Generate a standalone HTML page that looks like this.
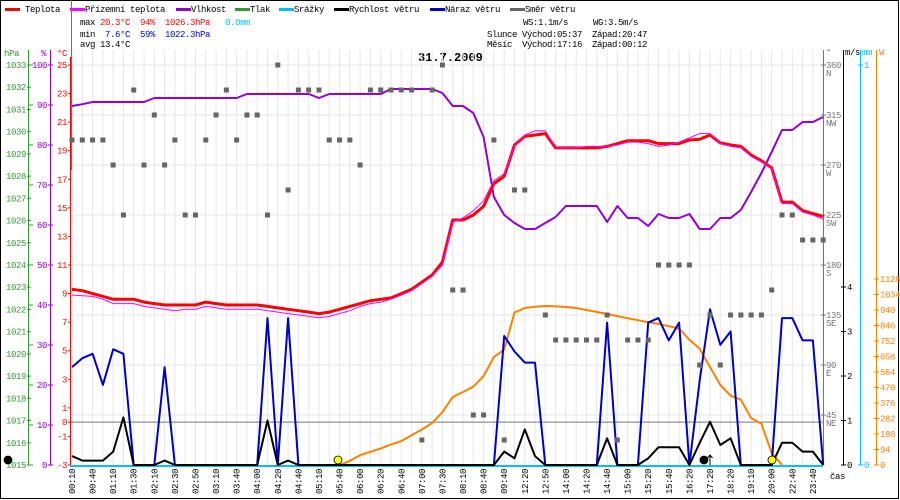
<!DOCTYPE html>
<html><head><meta charset="utf-8"><style>
html,body{margin:0;padding:0;background:#fff}
svg{display:block}
text{font-family:"Liberation Mono",monospace;font-size:9px;letter-spacing:-0.4px;white-space:pre}
</style></head><body>
<svg id="chart" width="900" height="500" viewBox="0 0 900 500" xml:space="preserve">
<rect x="0.5" y="0.5" width="898" height="498" fill="#fff" stroke="#000"/>
<g>
 <g><rect x="5" y="8" width="15" height="3" fill="#f00"/><text x="25" y="12">Teplota</text></g>
 <g><rect x="70" y="8" width="15" height="3" fill="#f0f"/><text x="85" y="12">Přízemní teplota</text></g>
 <g><rect x="176" y="8" width="15" height="3" fill="#9400d3"/><text x="191" y="12">Vlhkost</text></g>
 <g><rect x="235" y="8" width="15" height="3" fill="#339933"/><text x="250" y="12">Tlak</text></g>
 <g><rect x="279" y="8" width="15" height="3" fill="#00bfff"/><text x="294" y="12">Srážky</text></g>
 <g><rect x="334" y="8" width="15" height="3" fill="#000"/><text x="349" y="12">Rychlost větru</text></g>
 <g><rect x="430" y="8" width="15" height="3" fill="#0000cc"/><text x="445" y="12">Náraz větru</text></g>
 <g><rect x="510" y="8" width="15" height="3" fill="#666"/><text x="525" y="12">Směr větru</text></g>
</g>
<g>
 <text x="80" y="25">max <tspan fill="#f00">20.3°C  94%  1026.3hPa</tspan>   <tspan fill="#00bfff">0.0mm</tspan></text>
 <text x="80" y="37">min  <tspan fill="#0000cc">7.6°C  59%  1022.3hPa</tspan></text>
 <text x="80" y="47">avg 13.4°C</text>
 <text x="523" y="25">WS:1.1m/s     WG:3.5m/s</text>
 <text x="487" y="37">Slunce Východ:05:37  Západ:20:47</text>
 <text x="487" y="47">Měsíc  Východ:17:16  Západ:00:12</text>
</g>
<text x="418" y="61" style="font-size:12px;font-weight:bold;letter-spacing:0">31.7.2009</text>
<g id="grid"></g>
<g id="axes"></g>
<g id="series"></g>
</svg>
<script>
const timeLabels=["00:10","00:40","01:10","01:30","02:10","02:30","02:50","03:10","03:40","04:00","04:20","04:40","05:10","05:40","06:00","06:20","06:40","07:00","07:30","08:10","08:40","09:40","12:20","12:50","14:00","14:20","14:40","15:00","15:20","15:40","16:20","17:20","18:20","19:10","20:00","22:40","23:40"];
const temperature=[9.3,9.2,9.0,8.8,8.6,8.6,8.6,8.4,8.3,8.2,8.2,8.2,8.2,8.4,8.3,8.2,8.2,8.2,8.2,8.1,8.0,7.9,7.8,7.7,7.6,7.7,7.9,8.1,8.3,8.5,8.6,8.7,9.0,9.3,9.8,10.3,11.2,14.15,14.15,14.5,15.1,16.7,17.2,19.4,20.0,20.1,20.2,19.2,19.2,19.2,19.2,19.2,19.3,19.5,19.7,19.7,19.7,19.5,19.5,19.5,19.75,19.8,20.1,19.55,19.4,19.3,18.7,18.3,17.8,15.4,15.4,14.8,14.6,14.4];
const apparentTemp=[8.9,8.85,8.8,8.6,8.3,8.3,8.3,8.1,8.0,7.9,7.8,7.9,7.9,8.1,8.0,7.9,7.9,7.9,7.9,7.8,7.7,7.6,7.5,7.4,7.3,7.4,7.6,7.8,8.1,8.3,8.4,8.6,8.9,9.2,9.7,10.2,11.0,14.0,14.3,14.8,15.5,16.9,17.4,19.3,20.1,20.4,20.4,19.2,19.2,19.2,19.3,19.3,19.3,19.4,19.6,19.6,19.5,19.3,19.4,19.6,19.9,20.2,20.2,19.5,19.3,19.2,18.6,18.2,17.8,15.3,15.3,14.7,14.5,14.2];
const humidity=[89.75,90.2,90.75,90.75,90.75,90.75,90.75,90.75,91.75,91.75,91.75,91.75,91.75,91.75,91.75,91.75,91.75,92.75,92.75,92.75,92.75,92.75,92.75,92.75,91.75,92.75,92.75,92.75,92.75,92.75,92.75,94,94,94,94,94,93,89.75,89.75,88,82,67,62.5,60.5,59,59,60.5,62,64.75,64.75,64.75,64.75,60.75,64.75,61.75,61.75,59.75,62.75,61.75,61.75,62.75,59,59,61.75,61.75,63.75,68.25,73,78.25,83.75,83.75,85.75,85.75,87];
const gust=[2.2,2.4,2.5,1.8,2.6,2.5,0,0,0,2.2,0,0,0,0,0,0,0,0,0,3.3,0,3.3,0,0,0,0,0,0,0,0,0,0,0,0,0,0,0,0,0,0,0,0,2.9,2.55,2.3,2.3,0,0,0,0,0,0,3.2,0,0,0,3.2,3.3,2.8,3.2,0,1.9,3.5,2.7,3.0,0,0,0,0,3.3,3.3,2.8,2.8,0];
const windSpeed=[0.2,0.1,0.1,0.1,0.3,1.07,0,0,0,0.1,0,0,0,0,0,0,0,0,0,1.0,0,0.1,0,0,0,0,0,0,0,0,0,0,0,0,0,0,0,0,0,0,0,0,0.3,0.15,0.8,0.2,0,0,0,0,0,0,0.6,0,0,0,0.15,0.4,0.4,0.4,0,0.5,0.97,0.45,0.6,0,0,0,0,0.5,0.5,0.3,0.3,0];
const solar=[0,0,0,0,0,0,0,0,0,0,0,0,0,0,0,0,0,0,0,0,0,0,0,0,0,0,0,25,60,80,100,125,145,180,215,255,321,412,443,475,540,655,700,925,952,960,964,962,958,952,940,928,916,903,890,878,866,855,842,828,760,705,594,485,420,396,285,250,73,0,0,0,0,0];
const direction=[292.5,292.5,292.5,292.5,270,225,337.5,270,315,270,292.5,225,225,292.5,315,337.5,292.5,315,315,225,360,247.5,337.5,337.5,337.5,292.5,292.5,292.5,270,337.5,337.5,337.5,337.5,337.5,22.5,337.5,360,157.5,157.5,45,45,292.5,22.5,247.5,247.5,null,135,112.5,112.5,112.5,112.5,112.5,135,22.5,112.5,112.5,112.5,180,180,180,180,90,135,90,135,135,135,135,157.5,225,225,202.5,202.5,202.5];
const pressureTicks=[1033,1032,1031,1030,1029,1028,1027,1026,1025,1024,1023,1022,1021,1020,1019,1018,1017,1016,1015];
const humidityTicks=[100,90,80,70,60,50,40,30,20,10,0];
const tempTicks=[25,23,21,19,17,15,13,11,9,7,5,3,1,0,-1,-3];
const dirTicks=[360,315,270,225,180,135,90,45];
const dirNames=["N","NW","W","SW","S","SE","E","NE"];
const windTicks=[0,1,2,3,4];
const solarTicks=[0,94,188,282,376,470,564,658,752,846,940,1034,1128];

const NS="http://www.w3.org/2000/svg";
const X0=72, STEP=10.29, TOP=65, BOT=465;
function xk(k){return X0+k*STEP;}
function yTemp(t){return BOT-(t+3)*(BOT-TOP)/28;}
function yHum(h){return BOT-h*(BOT-TOP)/100;}
function yPres(p){return TOP+(1033-p)*(BOT-TOP)/18;}
function yWind(v){return BOT-v*44.5;}
function ySolar(w){return BOT-w*186/1128;}
function yDir(d){return BOT-d*(BOT-TOP)/360;}
function mk(tag,attrs,parent){const e=document.createElementNS(NS,tag);for(const a in attrs)e.setAttribute(a,attrs[a]);parent.appendChild(e);return e;}
const grid=document.getElementById('grid'),axes=document.getElementById('axes'),ser=document.getElementById('series');

for(let k=0;k<temperature.length;k++){
  const l=mk('line',{x1:xk(k),x2:xk(k),y1:50,y2:BOT,stroke:'#e6e6e6','stroke-width':1},grid);
  
  
}
dirTicks.forEach(d=>{
  const l=mk('line',{x1:70,x2:823,y1:yDir(d),y2:yDir(d),stroke:'#e6e6e6'},grid);
  
  
});
const zl=mk('line',{x1:70,x2:823,y1:yTemp(0),y2:yTemp(0),stroke:'#777'},grid);



function axisLine(x,y1,y2,c,name){const l=mk('line',{x1:x,x2:x,y1:y1,y2:y2,stroke:c,'stroke-width':1},axes);}
function lbl(x,y,s,c,anchor,name){const t=mk('text',{x:x,y:y,fill:c,'text-anchor':anchor},axes);t.textContent=s;return t;}
axisLine(28.5,50,BOT,'#339933','pressure-axis');
axisLine(50.5,50,BOT,'#9400d3','humidity-axis');
axisLine(70.5,57,BOT,'#f00','temperature-axis');
axisLine(71.5,0,170,'#339933','pressure-marker-line');
lbl(4,56,'hPa','#339933','start','pressure-axis-title');
lbl(41,56,'%','#9400d3','start','humidity-axis-title');
lbl(57,56,'°C','#f00','start','temperature-axis-title');
pressureTicks.forEach(p=>{const y=yPres(p);mk('line',{x1:27,x2:31,y1:y,y2:y,stroke:'#339933'},axes);lbl(26,y+3,String(p),'#339933','end','pressure-tick-label');});
humidityTicks.forEach(h=>{const y=yHum(h);mk('line',{x1:29,x2:33,y1:y,y2:y,stroke:'#339933'},axes);mk('line',{x1:48,x2:53,y1:y,y2:y,stroke:'#9400d3'},axes);lbl(47,y+3,String(h),'#9400d3','end','humidity-tick-label');});
tempTicks.forEach(t=>{const y=yTemp(t);mk('line',{x1:68,x2:71,y1:y,y2:y,stroke:'#f00'},axes);lbl(67,y+3,String(t),'#f00','end','temperature-tick-label');});
axisLine(823.5,50,BOT,'#777','direction-axis');
axisLine(843.5,50,BOT,'#000','wind-axis');
axisLine(860.5,50,BOT,'#00bfff','rain-axis');
axisLine(876.5,50,BOT,'#ff8000','solar-axis');
lbl(826,55,'°','#777','start','direction-axis-title');
lbl(845,55,'m/s','#000','start','wind-axis-title');
lbl(862,55,'mm','#00bfff','start','rain-axis-title');
lbl(879,55,'W','#ff8000','start','solar-axis-title');
dirTicks.forEach((d,i)=>{const y=yDir(d);mk('line',{x1:821,x2:826,y1:y,y2:y,stroke:'#777'},axes);lbl(826,y+3,String(d),'#777','start','direction-tick-label');lbl(826,y+11,dirNames[i],'#777','start','direction-name-label');});
windTicks.forEach(v=>{const y=yWind(v);mk('line',{x1:841,x2:846,y1:y,y2:y,stroke:'#000'},axes);lbl(847,y+3,String(v),'#000','start','wind-tick-label');});
[0,1].forEach(m=>{const y=BOT-m*400;mk('line',{x1:858,x2:863,y1:y,y2:y,stroke:'#00bfff'},axes);lbl(864,y+3,String(m),'#00bfff','start','rain-tick-label');});
solarTicks.forEach(w=>{const y=ySolar(w);mk('line',{x1:874,x2:879,y1:y,y2:y,stroke:'#ff8000'},axes);lbl(880,y+3,String(w),'#ff8000','start','solar-tick-label');});
lbl(830,479,'čas','#000','start','x-axis-title');
timeLabels.forEach((s,i)=>{const x=xk(i*2);const t=mk('text',{x:0,y:0,transform:`translate(${x+3},469) rotate(-90)`,'text-anchor':'end'},axes);t.textContent=s;});

function poly(arr,yf,color,w,name,skipZero){
  let segs=[],cur=[];
  arr.forEach((v,k)=>{
    if(v===null){if(cur.length)segs.push(cur);cur=[];return;}
    if(skipZero&&v===0&&!(arr[k-1]>0)&&!(arr[k+1]>0)){if(cur.length)segs.push(cur);cur=[];return;}
    cur.push(xk(k).toFixed(1)+','+yf(v).toFixed(1));
  });
  if(cur.length)segs.push(cur);
  segs.forEach(s=>{const p=mk('polyline',{points:s.join(' '),fill:'none',stroke:color,'stroke-width':w,'stroke-linejoin':'round'},ser);});
}
const rb=mk('line',{x1:70,x2:823,y1:BOT+1,y2:BOT+1,stroke:'#00bfff','stroke-width':2},ser);


poly(solar,ySolar,'#ff8000',2,'solar-series',true);
poly(gust,yWind,'#0000cc',2,'gust-series',false);
poly(windSpeed,yWind,'#000',2,'wind-speed-series',false);
poly(humidity,yHum,'#9400d3',2,'humidity-series',false);
poly(temperature,yTemp,'#f00',3,'temperature-series',false);
poly(apparentTemp,yTemp,'#f0f',1,'apparent-temperature-series',false);
direction.forEach((d,k)=>{if(d===null)return;const r=mk('rect',{x:xk(k)-2.5,y:yDir(d)-2.5,width:5,height:5,fill:'#666'},ser);});
function circ(x,y,r,fill,name){const c=mk('circle',{cx:x,cy:y,r:r,fill:fill,stroke:'#000','stroke-width':0.8},ser);}
circ(338,460,4,'#ff0','sunrise-marker');
circ(772,460,4,'#ff0','sunset-marker');
circ(8,460,4,'#000','moonset-marker');
circ(704,460,4,'#000','moonrise-marker');
const ar=mk('path',{d:'M710 465 V455 M707.5 458 L710 455 L712.5 458',stroke:'#000',fill:'none'},ser);


</script>
</body></html>
